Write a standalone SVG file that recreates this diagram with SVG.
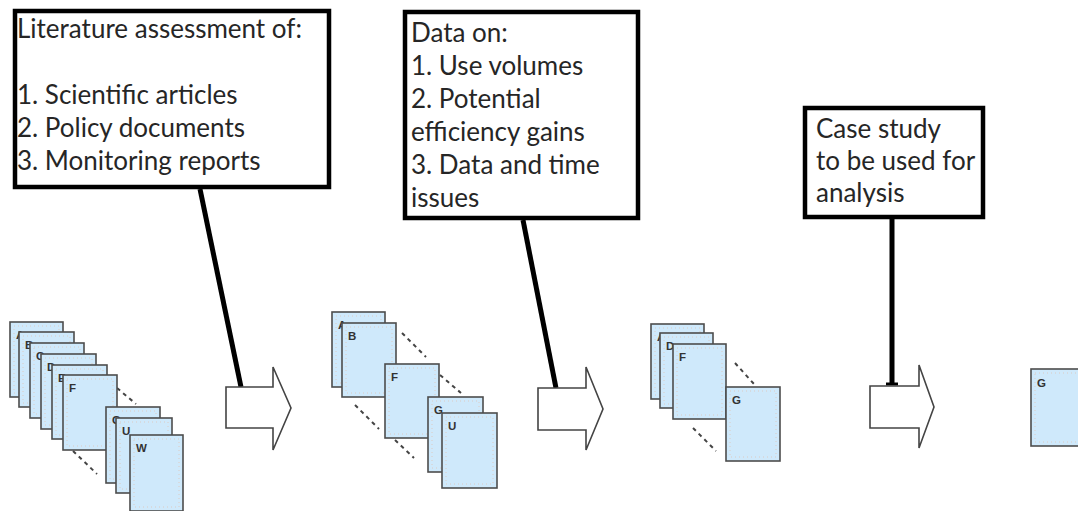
<svg xmlns="http://www.w3.org/2000/svg" width="1078" height="511" viewBox="0 0 1078 511">
  <style>
    .box { fill: #ffffff; stroke: #000000; stroke-width: 4.5; }
    .note { font-family: Lato, "Liberation Sans", sans-serif; font-size: 26px; fill: #262626; }
    .link { fill: none; stroke: #000000; stroke-width: 5; stroke-linecap: butt; }
    .step { fill: #ffffff; stroke: #444444; stroke-width: 1.6; stroke-linejoin: miter; }
    .page { fill: #cfe9fb; stroke: #4d4d4d; stroke-width: 1.6; }
    .grain { fill: none; stroke: #dccbc3; stroke-width: 1; stroke-dasharray: 1 3; }
    .tag { font-family: "Liberation Sans", Arial, sans-serif; font-size: 11.5px; font-weight: bold; fill: #333333; }
    .skip { fill: none; stroke: #444444; stroke-width: 2; stroke-dasharray: 4 4; }
  </style>

  <!-- callout boxes -->
  <g id="box-literature">
    <rect class="box" x="15" y="11" width="314" height="176"/>
    <text class="note" x="17" y="38">Literature assessment of:</text>
    <text class="note" x="17" y="104">1. Scientific articles</text>
    <text class="note" x="17" y="137">2. Policy documents</text>
    <text class="note" x="17" y="170">3. Monitoring reports</text>
  </g>
  <g id="box-data">
    <rect class="box" x="405" y="12" width="233" height="206"/>
    <text class="note" x="411" y="42">Data on:</text>
    <text class="note" x="411" y="75">1. Use volumes</text>
    <text class="note" x="411" y="108">2. Potential</text>
    <text class="note" x="411" y="141">efficiency gains</text>
    <text class="note" x="411" y="174">3. Data and time</text>
    <text class="note" x="411" y="207">issues</text>
  </g>
  <g id="box-case">
    <rect class="box" x="805" y="108" width="178" height="109"/>
    <text class="note" x="816" y="138">Case study</text>
    <text class="note" x="816" y="170">to be used for</text>
    <text class="note" x="816" y="202">analysis</text>
  </g>

  <!-- connectors from callouts to step arrows -->
  <g id="connectors">
    <path class="link" d="M200,189 L241,387"/>
    <path class="link" d="M523,220 L556,388"/>
    <path class="link" d="M892,219 L892,385"/>
    <path d="M886,384 H898" stroke="#000000" stroke-width="3" fill="none"/>
  </g>

  <!-- step arrows -->
  <g id="step-1"><path class="step" d="M226,387 H273 V367 L291,408 L273,450 V428 H226 Z"/></g>
  <g id="step-2"><path class="step" d="M538,388 H586 V367 L603,409 L586,450 V430 H538 Z"/></g>
  <g id="step-3"><path class="step" d="M870,386 H919 V365 L934,407 L919,448 V428 H870 Z"/></g>

  <!-- stack 1 -->
  <g id="stack-1">
    <path class="skip" d="M117,388 L136,404"/>
    <path class="skip" d="M73,451 L97,474"/>
    <g id="s1-a"><rect class="page" x="10" y="322" width="53" height="75"/><rect class="grain" x="14" y="326" width="45" height="67"/><text class="tag" x="16" y="339">A</text></g>
    <g id="s1-b"><rect class="page" x="19" y="332" width="55" height="75"/><rect class="grain" x="23" y="336" width="47" height="67"/><text class="tag" x="25" y="349">B</text></g>
    <g id="s1-c"><rect class="page" x="30" y="343" width="54" height="75"/><rect class="grain" x="34" y="347" width="46" height="67"/><text class="tag" x="36" y="360">C</text></g>
    <g id="s1-d"><rect class="page" x="41" y="354" width="55" height="75"/><rect class="grain" x="45" y="358" width="47" height="67"/><text class="tag" x="47" y="371">D</text></g>
    <g id="s1-e"><rect class="page" x="52" y="365" width="55" height="74"/><rect class="grain" x="56" y="369" width="47" height="66"/><text class="tag" x="58" y="382">E</text></g>
    <g id="s1-f"><rect class="page" x="63" y="375" width="54" height="75"/><rect class="grain" x="67" y="379" width="46" height="67"/><text class="tag" x="69" y="392">F</text></g>
    <g id="s1-g"><rect class="page" x="106" y="407" width="54" height="76"/><rect class="grain" x="110" y="411" width="46" height="68"/><text class="tag" x="112" y="424">G</text></g>
    <g id="s1-u"><rect class="page" x="116" y="418" width="56" height="75"/><rect class="grain" x="120" y="422" width="48" height="67"/><text class="tag" x="122" y="435">U</text></g>
    <g id="s1-w"><rect class="page" x="130" y="435" width="53" height="76"/><rect class="grain" x="134" y="439" width="45" height="68"/><text class="tag" x="136" y="452">W</text></g>
  </g>

  <!-- stack 2 -->
  <g id="stack-2">
    <path class="skip" d="M402,333 L426,357"/>
    <path class="skip" d="M440,375 L461,393"/>
    <path class="skip" d="M355,405 L379,429"/>
    <path class="skip" d="M395,440 L414,458"/>
    <g id="s2-a"><rect class="page" x="332" y="312" width="53" height="75"/><rect class="grain" x="336" y="316" width="45" height="67"/><text class="tag" x="338" y="329">A</text></g>
    <g id="s2-b"><rect class="page" x="342" y="323" width="54" height="74"/><rect class="grain" x="346" y="327" width="46" height="66"/><text class="tag" x="348" y="340">B</text></g>
    <g id="s2-f"><rect class="page" x="385" y="364" width="54" height="74"/><rect class="grain" x="389" y="368" width="46" height="66"/><text class="tag" x="391" y="381">F</text></g>
    <g id="s2-g"><rect class="page" x="428" y="397" width="55" height="75"/><rect class="grain" x="432" y="401" width="47" height="67"/><text class="tag" x="434" y="414">G</text></g>
    <g id="s2-u"><rect class="page" x="442" y="413" width="55" height="75"/><rect class="grain" x="446" y="417" width="47" height="67"/><text class="tag" x="448" y="430">U</text></g>
  </g>

  <!-- stack 3 -->
  <g id="stack-3">
    <path class="skip" d="M735,363 L754,384"/>
    <path class="skip" d="M693,428 L716,451"/>
    <g id="s3-a"><rect class="page" x="651" y="324" width="53" height="75"/><rect class="grain" x="655" y="328" width="45" height="67"/><text class="tag" x="657" y="341">A</text></g>
    <g id="s3-d"><rect class="page" x="660" y="333" width="53" height="75"/><rect class="grain" x="664" y="337" width="45" height="67"/><text class="tag" x="666" y="350">D</text></g>
    <g id="s3-f"><rect class="page" x="673" y="344" width="53" height="75"/><rect class="grain" x="677" y="348" width="45" height="67"/><text class="tag" x="679" y="361">F</text></g>
    <g id="s3-g"><rect class="page" x="726" y="387" width="54" height="74"/><rect class="grain" x="730" y="391" width="46" height="66"/><text class="tag" x="732" y="404">G</text></g>
  </g>

  <!-- stack 4 -->
  <g id="stack-4">
    <g id="s4-g"><rect class="page" x="1031" y="369" width="54" height="77"/><rect class="grain" x="1035" y="373" width="46" height="69"/><text class="tag" x="1037" y="387">G</text></g>
  </g>
</svg>
